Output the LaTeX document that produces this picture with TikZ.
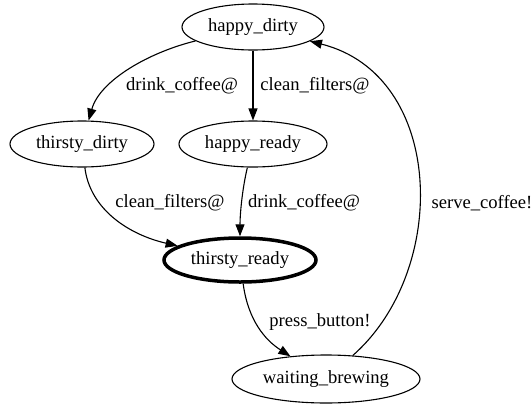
\documentclass[tikz,border=0pt]{standalone}
\usepackage{fontspec}
\setmainfont{Liberation Serif}
\usetikzlibrary{shapes.geometric,arrows.meta}
\begin{document}
\begin{tikzpicture}[x=1pt,y=-1pt,font=\fontsize{18.6}{20}\selectfont,
  state/.style={draw,line width=1.1pt,ellipse,inner sep=0pt,minimum height=46pt},
  edge/.style={line width=1.1pt,-{Triangle[length=12pt,width=9pt]}},
  lbl/.style={inner sep=0pt}]
  \useasboundingbox (0,0) rectangle (531,408);
  \node[state,minimum width=142pt] (hd) at (253,27) {happy\_dirty};
  \node[state,minimum width=144pt] (td) at (82,144) {thirsty\_dirty};
  \node[state,minimum width=148pt] (hr) at (253,144) {happy\_ready};
  \node[state,line width=3.5pt,minimum width=152pt,minimum height=44pt] (tr) at (240,260) {thirsty\_ready};
  \node[state,minimum width=188pt,minimum height=48pt] (wb) at (326,379) {waiting\_brewing};
  \draw[edge] (hd) .. controls (150,52) and (100,80) .. (td);
  \draw[edge] (hd) -- (hr);
  \draw[edge] (td) .. controls (90,210) and (130,235) .. (tr);
  \draw[edge] (hr) .. controls (242,190) and (240,215) .. (tr);
  \draw[edge] (tr) .. controls (248,320) and (265,340) .. (wb);
  \draw[edge] (wb) .. controls (450,270) and (445,75) .. (hd);
  \node[lbl] (l1) at (182,86) {drink\_coffee@};
  \node[lbl] (l2) at (315,86) {clean\_filters@};
  \node[lbl] (l3) at (170,203) {clean\_filters@};
  \node[lbl] (l4) at (304,203) {drink\_coffee@};
  \node[lbl] (l5) at (320,322) {press\_button!};
  \node[lbl] (l6) at (482,203) {serve\_coffee!};
\end{tikzpicture}
\end{document}
